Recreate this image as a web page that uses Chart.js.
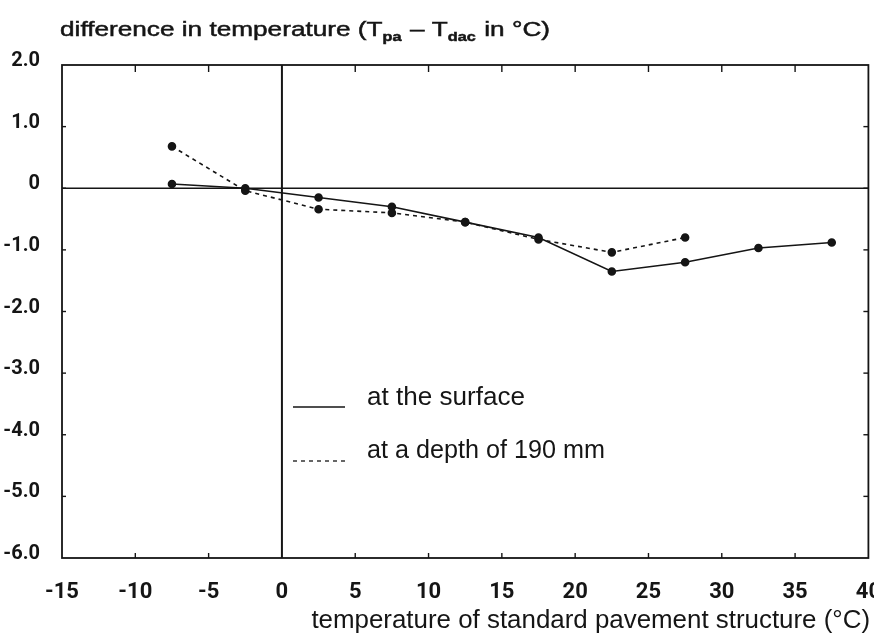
<!DOCTYPE html>
<html><head><meta charset="utf-8">
<script src="https://cdn.jsdelivr.net/npm/chart.js@4.4.1/dist/chart.umd.min.js"></script>
<style>html,body{margin:0;padding:0;background:#fff;}#wrap{width:874px;height:635px;position:relative;}</style>
</head><body><div id="wrap"><canvas id="c" width="874" height="635"></canvas></div>
<script>
// ---- data ----
const surfaceX = [-7.5, -2.5, 2.5, 7.5, 12.5, 17.5, 22.5, 27.5, 32.5, 37.5];
const surfaceValues = [0.07, 0.0, -0.15, -0.30, -0.55, -0.80, -1.35, -1.20, -0.97, -0.88];
const depthX = [-7.5, -2.5, 2.5, 7.5, 12.5, 17.5, 22.5, 27.5];
const depthValues = [0.68, -0.04, -0.34, -0.40, -0.55, -0.83, -1.04, -0.80];
const xTicks = [-15, -10, -5, 0, 5, 10, 15, 20, 25, 30, 35, 40];
const yTicks = [2, 1, 0, -1, -2, -3, -4, -5, -6];
const yTickLabels = ['2.0', '1.0', '0', '-1.0', '-2.0', '-3.0', '-4.0', '-5.0', '-6.0'];
const seriesLabels = ['at the surface', 'at a depth of 190 mm'];
const yTitleParts = [['difference in temperature (T', 0], ['pa', 1], [' \u2013 T', 0], ['dac', 1], [' in \u00B0C)', 0]];
const xTitle = 'temperature of standard pavement structure (\u00B0C)';

const INK = '#151515';
const TEXTFAM = '"Liberation Sans", Arial, sans-serif';

function fitFont(ctx, text, target, weight) {
  ctx.font = (weight || '') + ' 20px ' + TEXTFAM;
  const w = ctx.measureText(text).width;
  return 20 * target / w;
}

const decor = {
  id: 'decor',
  beforeDatasetsDraw(chart) {
    const {ctx, chartArea: a, scales: {x, y}} = chart;
    const line = (x1, y1, x2, y2) => { ctx.beginPath(); ctx.moveTo(x1, y1); ctx.lineTo(x2, y2); ctx.stroke(); };
    ctx.save();
    ctx.strokeStyle = INK;
    ctx.lineWidth = 1.8;
    ctx.strokeRect(a.left, a.top, a.right - a.left, a.bottom - a.top);
    const y0 = y.getPixelForValue(0);
    ctx.lineWidth = 1.4;
    line(a.left, y0, a.right, y0);
    const x0 = x.getPixelForValue(0);
    ctx.lineWidth = 2;
    line(x0, a.top, x0, a.bottom);
    ctx.lineWidth = 1.4;
    xTicks.forEach(v => {
      if (v <= -15 || v >= 40 || v === 0) return;
      const px = x.getPixelForValue(v);
      line(px, a.top, px, a.top + 7);
      line(px, a.bottom, px, a.bottom - 5);
    });
    yTicks.forEach(v => {
      if (v >= 2 || v <= -6) return;
      const py = y.getPixelForValue(v);
      line(a.right, py, a.right - 5, py);
      line(a.left, py, a.left + 4, py);
    });
    ctx.restore();
  },
  afterDraw(chart) {
    const {ctx} = chart;
    ctx.save();
    ctx.fillStyle = INK;
    ctx.textBaseline = 'alphabetic';
    ctx.textAlign = 'left';
    // y-axis title with subscripts, stretched horizontally to the reference width
    const base = 21, sub = 13;
    let total = 0;
    yTitleParts.forEach(([t, isSub]) => {
      ctx.font = (isSub ? 'bold ' + sub : base) + 'px ' + TEXTFAM;
      total += ctx.measureText(t).width + (isSub ? 1 : 0);
    });
    const sx = 490 / total;
    ctx.save();
    ctx.translate(60, 0);
    ctx.scale(sx, 1);
    ctx.strokeStyle = INK;
    ctx.lineWidth = 0.5;
    let xx = 0;
    yTitleParts.forEach(([t, isSub]) => {
      ctx.font = (isSub ? 'bold ' + sub : base) + 'px ' + TEXTFAM;
      ctx.fillText(t, xx, isSub ? 41 : 36);
      ctx.strokeText(t, xx, isSub ? 41 : 36);
      xx += ctx.measureText(t).width + (isSub ? 1 : 0);
    });
    ctx.restore();
    // x-axis title
    const fs = fitFont(ctx, xTitle, 559);
    ctx.font = fs + 'px ' + TEXTFAM;
    ctx.textAlign = 'right';
    ctx.fillText(xTitle, 870, 628);
    // legend
    ctx.textAlign = 'left';
    const ds = chart.data.datasets;
    const rows = [[407, 405, 158], [461, 458, 238]];
    ctx.strokeStyle = INK;
    ctx.lineWidth = 1.3;
    ds.forEach((d, i) => {
      ctx.setLineDash(d.borderDash || []);
      ctx.beginPath(); ctx.moveTo(293, rows[i][0]); ctx.lineTo(345, rows[i][0]); ctx.stroke();
    });
    ctx.setLineDash([]);
    ds.forEach((d, i) => {
      const lf = fitFont(ctx, d.label, rows[i][2]);
      ctx.font = lf + 'px ' + TEXTFAM;
      ctx.fillText(d.label, 367, rows[i][1]);
    });
    ctx.restore();
  }
};

new Chart(document.getElementById('c'), {
  type: 'line',
  data: {
    datasets: [
      { label: seriesLabels[0], data: surfaceX.map((v, i) => ({x: v, y: surfaceValues[i]})),
        borderColor: INK, backgroundColor: INK, borderWidth: 1.6, pointRadius: 3.5,
        pointBackgroundColor: INK, pointBorderColor: INK, tension: 0 },
      { label: seriesLabels[1], data: depthX.map((v, i) => ({x: v, y: depthValues[i]})),
        borderColor: INK, backgroundColor: INK, borderWidth: 1.6, borderDash: [4, 4], pointRadius: 3.5,
        pointBackgroundColor: INK, pointBorderColor: INK, tension: 0 }
    ]
  },
  options: {
    responsive: false, animation: false, devicePixelRatio: 1,
    layout: { padding: { left: 0, right: 4, top: 65, bottom: 0 } },
    plugins: { legend: { display: false }, title: { display: false }, tooltip: { enabled: false } },
    scales: {
      x: {
        type: 'linear', min: -15, max: 40,
        afterBuildTicks: s => { s.ticks = xTicks.map(v => ({value: v})); },
        afterFit: s => { s.height = 77; s.paddingLeft = 0; s.paddingRight = 0; },
        grid: { display: false }, border: { display: false },
        ticks: { color: INK, font: { family: 'Roboto, "Liberation Sans", sans-serif', size: 22, weight: 'bold' },
                 padding: 13, maxRotation: 0, autoSkip: false, callback: v => String(v) }
      },
      y: {
        type: 'linear', min: -6, max: 2,
        afterBuildTicks: s => { s.ticks = yTicks.slice().reverse().map(v => ({value: v})); },
        afterFit: s => { s.width = 62; s.paddingTop = 0; s.paddingBottom = 0; },
        grid: { display: false }, border: { display: false },
        ticks: { color: INK, font: { family: 'Roboto, "Liberation Sans", sans-serif', size: 20, weight: 'bold' },
                 padding: 14, labelOffset: -4, autoSkip: false, callback: v => yTickLabels[yTicks.indexOf(v)] }
      }
    }
  },
  plugins: [decor]
});
</script></body></html>
